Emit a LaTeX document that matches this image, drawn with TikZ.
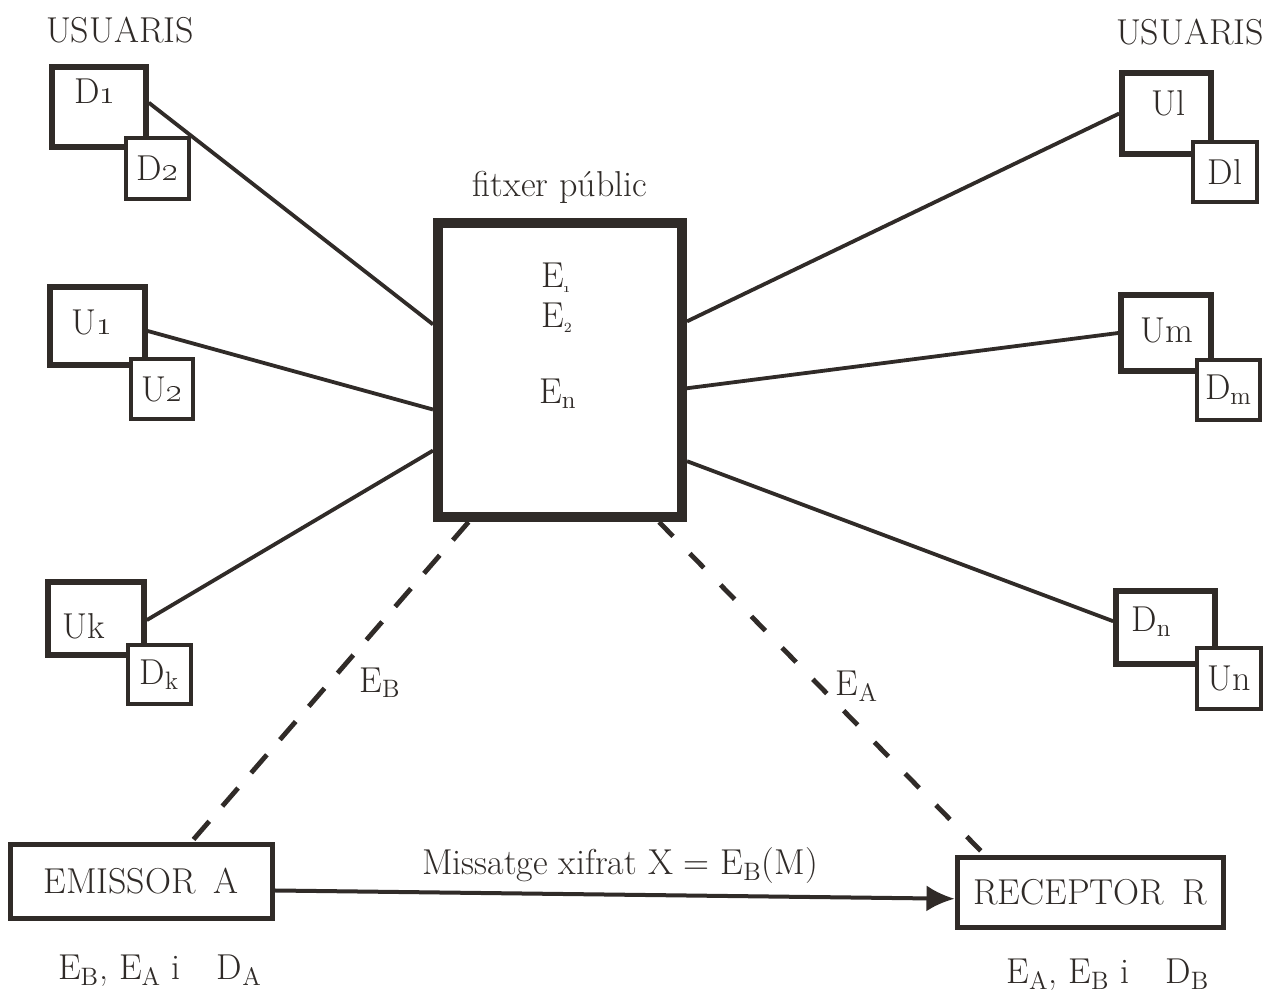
\documentclass[tikz,border=0pt]{standalone}
\usetikzlibrary{arrows.meta,calc}
\definecolor{ink}{RGB}{48,43,40}
\begin{document}
\begin{tikzpicture}[x=0.5pt,y=-0.5pt, font=\fontsize{18}{21}\selectfont, color=ink,
  bigbox/.style={draw=ink, line width=2.8pt, fill=white, inner sep=0pt},
  smallbox/.style={draw=ink, line width=1.6pt, fill=white, inner sep=0pt},
  mainbox/.style={draw=ink, line width=2.5pt, fill=white, inner sep=0pt},
  pubbox/.style={draw=ink, line width=5pt, fill=white, inner sep=0pt},
  link/.style={draw=ink, line width=1.9pt},
  keyline/.style={draw=ink, line width=2.4pt, dash pattern=on 12pt off 10pt},
  lbl/.style={inner sep=0pt, text=ink}]
\useasboundingbox[fill=white] (0,0) rectangle (1275,996);

% titles
\node[lbl] (usl) at (120,30) {USUARIS};
\node[lbl] (usr) at (1190,32) {USUARIS};
\node[lbl] (fp) at (560,187) {fitxer p\'ublic};

% public file
\node[pubbox, minimum width=122pt, minimum height=147pt] (pub) at (560,370) {};
\node[lbl] (e1) at (557,278) {E\textsubscript{\scriptsize\oldstylenums{1}}};
\node[lbl] (e2) at (557,318) {E\textsubscript{\scriptsize 2}};
\node[lbl] (en) at (558,394) {E\textsubscript{n}};

% big user boxes
\node[bigbox, minimum width=47pt, minimum height=40pt,
  label={[lbl,xshift=-2pt,yshift=8pt]center:D\oldstylenums{1}}] (D1) at (99,107) {};
\node[bigbox, minimum width=47.5pt, minimum height=39pt,
  label={[lbl,xshift=-2.5pt,yshift=2pt]center:U\oldstylenums{1}}] (U1) at (97.5,326) {};
\node[bigbox, minimum width=48pt, minimum height=36.5pt,
  label={[lbl,xshift=-6pt,yshift=-4pt]center:Uk}] (Uk) at (96,618.5) {};
\node[bigbox, minimum width=44.5pt, minimum height=40.5pt,
  label={[lbl,xshift=1pt,yshift=5pt]center:Ul}] (Ul) at (1166.5,113.5) {};
\node[bigbox, minimum width=45pt, minimum height=38pt,
  label={[lbl,xshift=0.5pt,yshift=1.5pt]center:Um}] (Um) at (1166,333) {};
\node[bigbox, minimum width=49.5pt, minimum height=36.5pt,
  label={[lbl,xshift=-7pt,yshift=3pt]center:D\textsubscript{n}}] (Dn) at (1165.5,627.5) {};

% connectors to the public file
\draw[link] ($(D1.north east)!0.45!(D1.south east)$) -- ($(pub.north west)!0.35!(pub.south west)$);
\draw[link] ($(U1.north east)!0.56!(U1.south east)$) -- ($(pub.north west)!0.63!(pub.south west)$);
\draw[link] ($(Uk.north east)!0.52!(Uk.south east)$) -- ($(pub.north west)!0.765!(pub.south west)$);
\draw[link] (Ul.west) -- ($(pub.north east)!0.34!(pub.south east)$);
\draw[link] (Um.west) -- ($(pub.north east)!0.56!(pub.south east)$);
\draw[link] ($(Dn.north west)!0.42!(Dn.south west)$) -- ($(pub.north east)!0.80!(pub.south east)$);

% small boxes
\node[smallbox, minimum width=31.5pt, minimum height=30.5pt] (D2) at (157.5,168.5) {D\oldstylenums{2}};
\node[smallbox, minimum width=31pt, minimum height=30pt] (U2) at (162,389) {U\oldstylenums{2}};
\node[smallbox, minimum width=31.5pt, minimum height=29.5pt] (Dk) at (159.5,674.5) {D\textsubscript{k}};
\node[smallbox, minimum width=32pt, minimum height=30pt] (Dl) at (1225,172) {Dl};
\node[smallbox, minimum width=31.5pt, minimum height=30pt] (Dm) at (1228.5,390) {D\textsubscript{m}};
\node[smallbox, minimum width=32pt, minimum height=30.5pt] (Un) at (1229,678.5) {Un};

% sender and receiver
\node[mainbox, minimum width=131pt, minimum height=37pt] (em) at (141,881) {EMISSOR\hspace{0.5em}A};
\node[mainbox, minimum width=133pt, minimum height=35pt] (rc) at (1090,892) {RECEPTOR\hspace{0.5em}R};

% key lines
\draw[keyline] ($(pub.south west)!0.14!(pub.south east)$) -- ($(em.north west)!0.69!(em.north east)$);
\draw[keyline, dash pattern=on 10pt off 12pt] ($(pub.south west)!0.89!(pub.south east)$) -- ($(rc.north west)!0.11!(rc.north east)$);
\node[lbl] (eb) at (380,683) {E\textsubscript{B}};
\node[lbl] (ea) at (857,686) {E\textsubscript{A}};

% message arrow
\draw[link, line width=2pt, -{Latex[length=14pt,width=13pt]}]
  ($(em.north east)!0.62!(em.south east)$) -- ($(rc.north west)!0.59!(rc.south west)$);
\node[lbl] (msg) at (620,866) {Missatge xifrat X = E\textsubscript{B}(M)};

% keys held
\node[lbl] (ka) at (160,971) {E\textsubscript{B}, E\textsubscript{A} i\quad D\textsubscript{A}};
\node[lbl] (kb) at (1108,975) {E\textsubscript{A}, E\textsubscript{B} i\quad D\textsubscript{B}};
\end{tikzpicture}
\end{document}
